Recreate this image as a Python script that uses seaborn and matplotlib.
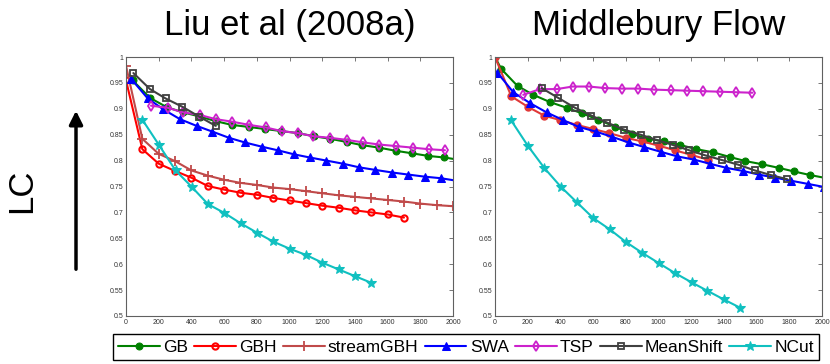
import numpy as np
import pandas as pd
import matplotlib
matplotlib.use('Agg')
import matplotlib.pyplot as plt
from matplotlib.ticker import MultipleLocator, FuncFormatter
import seaborn as sns

methods = ['GB', 'GBH', 'streamGBH', 'SWA', 'TSP', 'MeanShift', 'NCut']
titles = ['Liu et al (2008a)', 'Middlebury Flow']

# ---- Liu et al (2008a) ----
liu_gb_x = [40, 147, 250, 350, 453, 550, 646, 750, 850, 950, 1052, 1150, 1250, 1350, 1441, 1548, 1649, 1751, 1849, 1947, 2047]
liu_gb_y = [0.955, 0.921, 0.903, 0.893, 0.885, 0.876, 0.869, 0.865, 0.861, 0.857, 0.853, 0.847, 0.842, 0.836, 0.830, 0.825, 0.819, 0.814, 0.809, 0.806, 0.801]
liu_gbh_x = [0, 100, 200, 300, 400, 500, 600, 700, 800, 900, 1000, 1100, 1200, 1300, 1400, 1500, 1600, 1700]
liu_gbh_y = [0.955, 0.822, 0.794, 0.780, 0.767, 0.751, 0.744, 0.738, 0.734, 0.728, 0.723, 0.718, 0.713, 0.709, 0.704, 0.700, 0.696, 0.690]
liu_stream_x = [0, 100, 200, 300, 400, 500, 600, 700, 800, 900, 1000, 1100, 1200, 1300, 1400, 1500, 1600, 1700, 1800, 1900, 2000]
liu_stream_y = [0.983, 0.842, 0.813, 0.799, 0.781, 0.771, 0.763, 0.757, 0.753, 0.748, 0.745, 0.741, 0.737, 0.733, 0.730, 0.727, 0.724, 0.721, 0.717, 0.714, 0.712]
liu_swa_x = [31, 133, 228, 330, 432, 528, 630, 727, 829, 927, 1029, 1124, 1226, 1328, 1426, 1525, 1629, 1727, 1827, 1925, 2025]
liu_swa_y = [0.958, 0.920, 0.899, 0.880, 0.867, 0.856, 0.844, 0.835, 0.827, 0.820, 0.812, 0.806, 0.800, 0.794, 0.787, 0.782, 0.777, 0.773, 0.769, 0.766, 0.761]
liu_tsp_x = [153, 255, 351, 453, 549, 651, 752, 854, 952, 1054, 1146, 1248, 1350, 1452, 1549, 1652, 1754, 1851, 1951]
liu_tsp_y = [0.906, 0.902, 0.893, 0.888, 0.880, 0.875, 0.869, 0.864, 0.857, 0.853, 0.847, 0.844, 0.840, 0.835, 0.831, 0.828, 0.825, 0.822, 0.820]
liu_ms_x = [45, 147, 242, 344, 447, 549]
liu_ms_y = [0.969, 0.938, 0.920, 0.904, 0.885, 0.867]
liu_ncut_x = [100, 202, 303, 403, 501, 601, 701, 800, 898, 1000, 1100, 1200, 1300, 1400, 1501]
liu_ncut_y = [0.879, 0.830, 0.781, 0.749, 0.716, 0.699, 0.679, 0.661, 0.644, 0.630, 0.618, 0.603, 0.590, 0.577, 0.564]

# ---- Middlebury Flow ----
mid_gb_x = [0, 38, 138, 234, 336, 438, 534, 633, 735, 835, 933, 1035, 1134, 1232, 1334, 1436, 1532, 1633, 1735, 1829, 1929, 2029]
mid_gb_y = [1.000, 0.977, 0.944, 0.927, 0.913, 0.902, 0.891, 0.879, 0.865, 0.852, 0.842, 0.837, 0.830, 0.822, 0.816, 0.807, 0.799, 0.793, 0.786, 0.779, 0.772, 0.766]
mid_gbh_x = [0, 100, 200, 300, 400, 500, 600, 700, 800, 900, 1000, 1100, 1200, 1300]
mid_gbh_y = [1.000, 0.924, 0.904, 0.887, 0.878, 0.869, 0.861, 0.853, 0.844, 0.837, 0.829, 0.820, 0.811, 0.802]
mid_swa_x = [14, 112, 214, 316, 418, 513, 617, 715, 817, 914, 1014, 1116, 1216, 1314, 1415, 1517, 1613, 1715, 1813, 1914, 2014]
mid_swa_y = [0.970, 0.932, 0.911, 0.893, 0.878, 0.865, 0.856, 0.846, 0.835, 0.826, 0.817, 0.808, 0.802, 0.794, 0.786, 0.780, 0.773, 0.767, 0.761, 0.755, 0.749]
mid_tsp_x = [173, 275, 377, 475, 574, 672, 774, 876, 974, 1075, 1173, 1273, 1375, 1473, 1574]
mid_tsp_y = [0.927, 0.938, 0.938, 0.943, 0.943, 0.940, 0.939, 0.939, 0.937, 0.936, 0.935, 0.934, 0.933, 0.932, 0.931]
mid_ms_x = [285, 387, 489, 589, 688, 788, 890, 988, 1090, 1187, 1287, 1389, 1489, 1589, 1688, 1788]
mid_ms_y = [0.940, 0.921, 0.902, 0.887, 0.873, 0.860, 0.850, 0.840, 0.830, 0.820, 0.810, 0.801, 0.792, 0.781, 0.772, 0.764]
mid_ncut_x = [98, 200, 301, 401, 499, 601, 703, 800, 900, 1002, 1100, 1202, 1297, 1399, 1499]
mid_ncut_y = [0.878, 0.829, 0.786, 0.750, 0.720, 0.689, 0.667, 0.643, 0.622, 0.602, 0.583, 0.565, 0.549, 0.532, 0.516]

panels = [
    {'GB': (liu_gb_x, liu_gb_y), 'GBH': (liu_gbh_x, liu_gbh_y), 'streamGBH': (liu_stream_x, liu_stream_y),
     'SWA': (liu_swa_x, liu_swa_y), 'TSP': (liu_tsp_x, liu_tsp_y), 'MeanShift': (liu_ms_x, liu_ms_y),
     'NCut': (liu_ncut_x, liu_ncut_y)},
    {'GB': (mid_gb_x, mid_gb_y), 'GBH': (mid_gbh_x, mid_gbh_y), 'SWA': (mid_swa_x, mid_swa_y),
     'TSP': (mid_tsp_x, mid_tsp_y), 'MeanShift': (mid_ms_x, mid_ms_y), 'NCut': (mid_ncut_x, mid_ncut_y)},
]

# line / marker look for each method
styles = {
    'GB':        dict(color='#008000', marker='o', markersize=5, markerfacecolor='#008000'),
    'GBH':       dict(color='#ff0000', marker='o', markersize=4.5, markerfacecolor='none', markeredgewidth=1.5),
    'streamGBH': dict(color='#c04a4a', marker='+', markersize=7, markeredgewidth=1.3),
    'SWA':       dict(color='#0000ff', marker='^', markersize=5.5, markerfacecolor='#0000ff'),
    'TSP':       dict(color='#cc22cc', marker='d', markersize=5.5, markerfacecolor='none', markeredgewidth=1.3),
    'MeanShift': dict(color='#404040', marker='s', markersize=4.5, markerfacecolor='none', markeredgewidth=1.3),
    'NCut':      dict(color='#10c0c0', marker='*', markersize=7, markerfacecolor='#10c0c0'),
}

sns.set_style('white')
plt.rcParams['font.family'] = ['Liberation Sans', 'DejaVu Sans']
plt.rcParams['text.color'] = 'black'
plt.rcParams['axes.titlecolor'] = 'black'

fig = plt.figure(figsize=(8.3, 3.64), dpi=100)
ax_l = fig.add_axes([126 / 830, 1 - 316 / 364, 327 / 830, 259 / 364])
ax_r = fig.add_axes([495 / 830, 1 - 316 / 364, 327 / 830, 259 / 364])

handles = {}
for ax, title, data in zip([ax_l, ax_r], titles, panels):
    for name in methods:
        if name not in data:
            continue
        xs, ys = data[name]
        st = dict(styles[name])
        if ax is ax_r and name == 'GBH':
            st.update(color='#e03838', markerfacecolor='#e03838')
        sns.lineplot(x=xs, y=ys, ax=ax, sort=False, estimator=None, linewidth=1.5,
                     markeredgecolor=st['color'], legend=False, **st)
        if name not in handles:
            handles[name] = ax.lines[-1]
    ax.set_xlim(0, 2000)
    ax.set_ylim(0.5, 1.0)
    ax.xaxis.set_major_locator(MultipleLocator(200))
    ax.yaxis.set_major_locator(MultipleLocator(0.05))
    ax.yaxis.set_major_formatter(FuncFormatter(lambda v, p: '%g' % round(v, 2)))
    ax.tick_params(direction='in', length=3, width=0.6, top=True, right=True,
                   labelsize=5, labelcolor='#333333', color='#606060', pad=2)
    for sp in ax.spines.values():
        sp.set_color('#606060')
        sp.set_linewidth(0.8)
    ax.set_title(title, fontsize=25, pad=16, color='black')

fig.text(22 / 830, 1 - 191 / 364, 'LC', rotation=90, fontsize=25, ha='center', va='center', color='black')
fig.add_artist(matplotlib.patches.FancyArrowPatch(
    (76 / 830, 1 - 272 / 364), (76 / 830, 1 - 108 / 364), transform=fig.transFigure,
    arrowstyle='-|>', mutation_scale=20, linewidth=2.5, color='black'))

leg = fig.legend([handles[m] for m in methods], methods, loc='center',
                 bbox_to_anchor=(466 / 830, 1 - 347 / 364), ncol=7, fontsize=12.5,
                 handlelength=2.4, handletextpad=0.2, columnspacing=0.35, borderpad=0.3,
                 fancybox=False, framealpha=1, edgecolor='black')
leg.get_frame().set_linewidth(1.0)
for t in leg.get_texts():
    t.set_color('black')

fig.savefig('out.png', dpi=100)
